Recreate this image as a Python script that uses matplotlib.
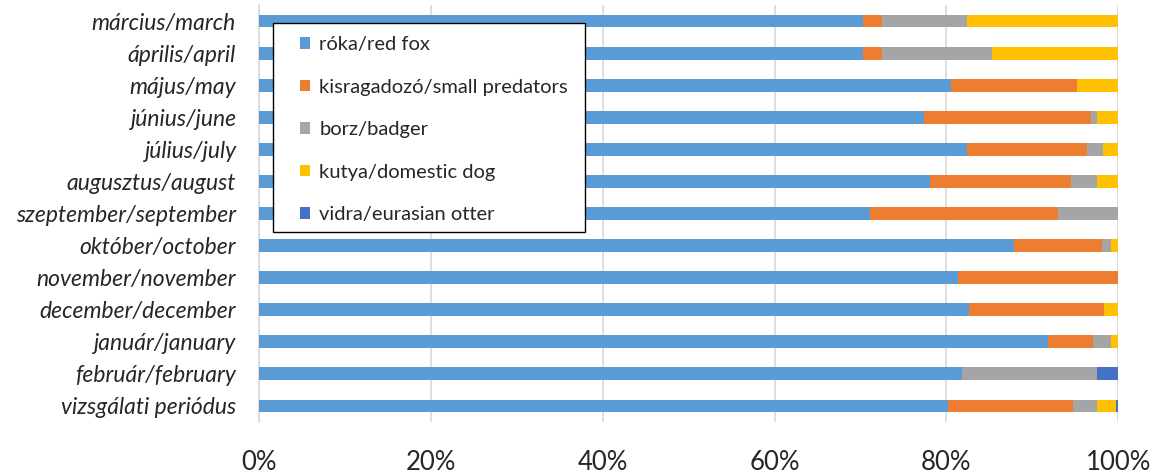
import matplotlib
matplotlib.use("Agg")
import matplotlib.pyplot as plt
from matplotlib.patches import Patch, Rectangle

categories = [
    "március/march", "április/april", "május/may", "június/june",
    "július/july", "augusztus/august", "szeptember/september",
    "október/october", "november/november", "december/december",
    "január/january", "február/february", "vizsgálati periódus",
]

series_names = [
    "róka/red fox", "kisragadozó/small predators", "borz/badger",
    "kutya/domestic dog", "vidra/eurasian otter",
]

red_fox = [70.3, 70.3, 80.5, 77.4, 82.4, 78.1, 71.1, 87.9, 81.4, 82.6, 91.8, 81.8, 80.2]
small_predators = [2.2, 2.2, 14.7, 19.5, 14.0, 16.4, 21.9, 10.2, 18.6, 15.8, 5.3, 0.0, 14.6]
badger = [9.9, 12.8, 0.0, 0.6, 1.8, 3.1, 7.0, 1.1, 0.0, 0.0, 2.1, 15.7, 2.7]
domestic_dog = [17.6, 14.7, 4.8, 2.5, 1.8, 2.4, 0.0, 0.8, 0.0, 1.6, 0.8, 0.0, 2.3]
eurasian_otter = [0.0, 0.0, 0.0, 0.0, 0.0, 0.0, 0.0, 0.0, 0.0, 0.0, 0.0, 2.5, 0.2]

colors = ["#5B9BD5", "#ED7D31", "#A5A5A5", "#FFC000", "#4472C4"]
x_ticks = [0, 20, 40, 60, 80, 100]
x_tick_labels = ["0%", "20%", "40%", "60%", "80%", "100%"]

W, H = 1158, 474
fig = plt.figure(figsize=(W / 100, H / 100), dpi=100)
ax = fig.add_axes([0.224, 0.1097, 0.7415, 0.8798])

series = [red_fox, small_predators, badger, domestic_dog, eurasian_otter]
ypos = list(range(len(categories)))
left = [0.0] * len(categories)
for vals, col in zip(series, colors):
    ax.barh(ypos, vals, left=left, height=0.4, color=col, edgecolor="none", zorder=3)
    left = [a + b for a, b in zip(left, vals)]

ax.set_xlim(0, 100)
ax.set_ylim(len(categories) - 0.5, -0.5)
ax.set_xticks(x_ticks)
ax.set_xticklabels(x_tick_labels, fontsize=18.5, family="Lato", color="#262626")
ax.set_yticks(ypos)
ax.set_yticklabels(categories, fontsize=16.5, style="italic", family="Lato", color="#262626")
ax.tick_params(axis="both", length=0)
ax.tick_params(axis="x", pad=20)
ax.tick_params(axis="y", pad=17)
ax.grid(axis="x", color="#D9D9D9", linewidth=1.2, zorder=0)
for side in ["top", "right", "bottom"]:
    ax.spines[side].set_visible(False)
ax.spines["left"].set_color("#D9D9D9")
ax.spines["left"].set_linewidth(1.2)

# Legend box drawn as its own rectangle, entries placed inside it
box_x0, box_y0, box_x1, box_y1 = 272.7, 22.7, 585.0, 232.3
fig.patches.append(Rectangle(
    (box_x0 / W, 1 - box_y1 / H), (box_x1 - box_x0) / W, (box_y1 - box_y0) / H,
    transform=fig.transFigure, facecolor="white", edgecolor="black",
    linewidth=1.0, zorder=5,
))
handles = [Patch(facecolor=c, edgecolor="none") for c in colors]
leg = fig.legend(
    handles, series_names, loc="upper left",
    bbox_to_anchor=(300 / W, 1 - 36 / H), bbox_transform=fig.transFigure,
    borderaxespad=0, borderpad=0, frameon=False,
    prop={"family": "Lato", "size": 14.5},
    handlelength=0.5, handleheight=0.5, handletextpad=0.45,
    labelspacing=1.27,
)
leg.set_zorder(6)
for t in leg.get_texts():
    t.set_color("#262626")

fig.savefig("out.png", dpi=100, facecolor="white")
